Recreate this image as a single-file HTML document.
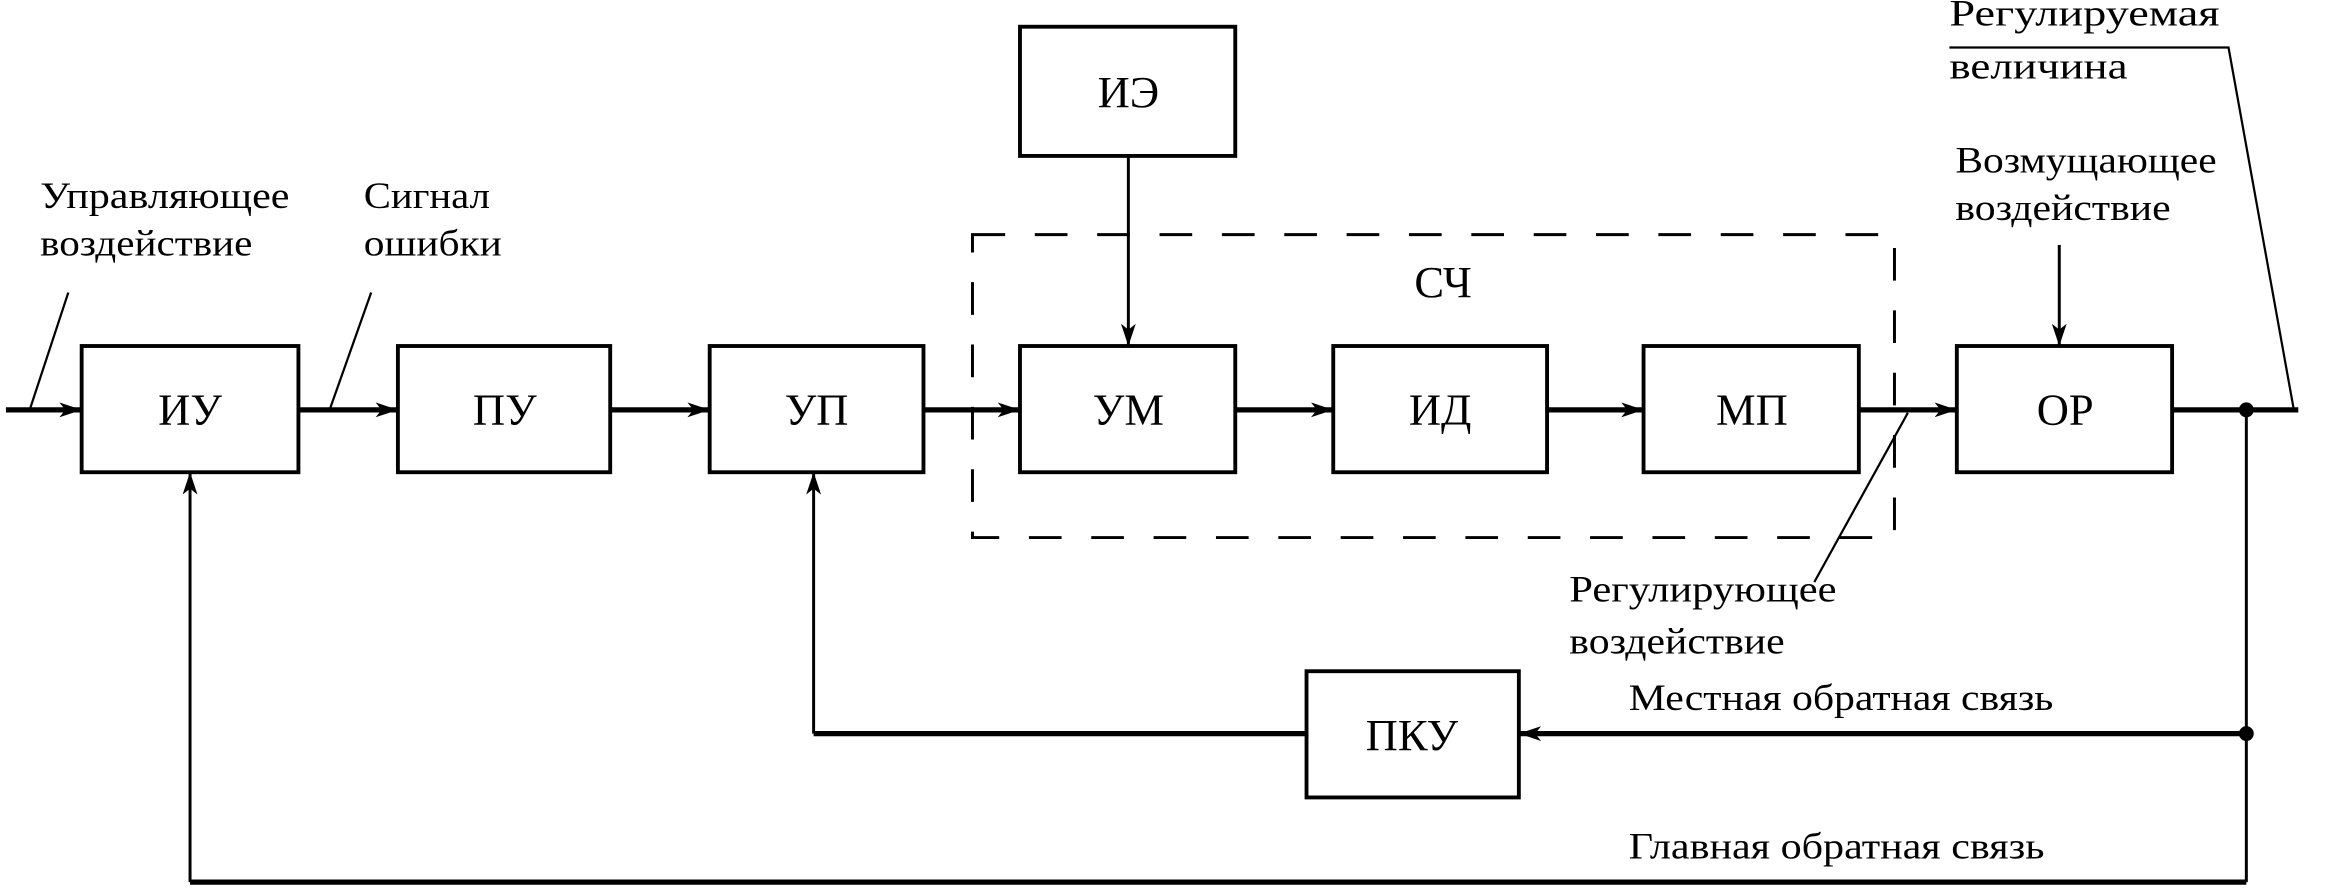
<!DOCTYPE html>
<html><head><meta charset="utf-8"><style>html,body{margin:0;padding:0;background:#fff}svg{display:block}</style></head>
<body>
<svg width="2328" height="891" viewBox="0 0 1568 600" preserveAspectRatio="none" xmlns="http://www.w3.org/2000/svg">
<defs>
<marker id="a" markerWidth="16" markerHeight="10" refX="15" refY="5" orient="auto" markerUnits="userSpaceOnUse">
<path d="M0,0 L15,5 L0,10 L4,5 Z" fill="#000"/></marker>
</defs>
<g fill="none" stroke="#000">
<g stroke-width="2.6">
<rect x="55" y="233" width="146" height="85"/>
<rect x="268" y="233" width="143" height="85"/>
<rect x="478" y="233" width="144" height="85"/>
<rect x="687" y="233" width="145" height="85"/>
<rect x="898" y="233" width="144" height="85"/>
<rect x="1107" y="233" width="145" height="85"/>
<rect x="1318" y="233" width="145" height="85"/>
<rect x="687" y="18" width="145" height="87"/>
<rect x="880" y="452" width="143" height="85"/>
</g>
<rect x="655" y="158" width="621" height="204" stroke-width="2" stroke-dasharray="22,20"/>
<g stroke-width="3.5">
<line x1="4" y1="276" x2="55" y2="276" marker-end="url(#a)"/>
<line x1="201" y1="276" x2="268" y2="276" marker-end="url(#a)"/>
<line x1="411" y1="276" x2="478" y2="276" marker-end="url(#a)"/>
<line x1="622" y1="276" x2="687" y2="276" marker-end="url(#a)"/>
<line x1="832" y1="276" x2="898" y2="276" marker-end="url(#a)"/>
<line x1="1042" y1="276" x2="1107" y2="276" marker-end="url(#a)"/>
<line x1="1252" y1="276" x2="1318" y2="276" marker-end="url(#a)"/>
<line x1="1463" y1="276" x2="1548" y2="276"/>
<line x1="1513" y1="494" x2="1023" y2="494" marker-end="url(#a)"/>
<line x1="880" y1="494" x2="548" y2="494"/>
<line x1="128" y1="594" x2="1513" y2="594"/>
</g>
<g stroke-width="2">
<line x1="760" y1="105" x2="760" y2="233" marker-end="url(#a)"/>
<line x1="1387" y1="165" x2="1387" y2="233" marker-end="url(#a)"/>
<line x1="1513" y1="276" x2="1513" y2="594"/>
<line x1="548" y1="494" x2="548" y2="318" marker-end="url(#a)"/>
<line x1="128" y1="594" x2="128" y2="318" marker-end="url(#a)"/>
</g>
<g stroke-width="1.5">
<line x1="20" y1="276" x2="46" y2="197"/>
<line x1="222" y1="276" x2="250" y2="197"/>
<line x1="1285" y1="278" x2="1222" y2="392"/>
<polyline points="1313,32 1501,32 1545,276"/>
</g>
</g>
<circle cx="1513" cy="276" r="5" fill="#000"/>
<circle cx="1513" cy="494" r="5" fill="#000"/>
<g font-family="'Liberation Serif', serif" fill="#000" text-anchor="middle" font-size="30">
<text x="128" y="286">ИУ</text>
<text x="340" y="286">ПУ</text>
<text x="550" y="286">УП</text>
<text x="760" y="286">УМ</text>
<text x="970" y="286">ИД</text>
<text x="1180" y="286">МП</text>
<text x="1391" y="286">ОР</text>
<text x="760" y="72">ИЭ</text>
<text x="951" y="505">ПКУ</text>
<text x="972" y="200">СЧ</text>
</g>
<g font-family="'Liberation Serif', serif" fill="#000" font-size="25">
<text x="27" y="140" textLength="168" lengthAdjust="spacingAndGlyphs">Управляющее</text>
<text x="27" y="172" textLength="143" lengthAdjust="spacingAndGlyphs">воздействие</text>
<text x="245" y="140" textLength="85" lengthAdjust="spacingAndGlyphs">Сигнал</text>
<text x="245" y="172" textLength="93" lengthAdjust="spacingAndGlyphs">ошибки</text>
<text x="1313" y="17" textLength="182" lengthAdjust="spacingAndGlyphs">Регулируемая</text>
<text x="1313" y="53" textLength="120" lengthAdjust="spacingAndGlyphs">величина</text>
<text x="1317" y="116" textLength="176" lengthAdjust="spacingAndGlyphs">Возмущающее</text>
<text x="1317" y="148" textLength="145" lengthAdjust="spacingAndGlyphs">воздействие</text>
<text x="1057" y="405" textLength="180" lengthAdjust="spacingAndGlyphs">Регулирующее</text>
<text x="1057" y="440" textLength="145" lengthAdjust="spacingAndGlyphs">воздействие</text>
<text x="1097" y="478" textLength="286" lengthAdjust="spacingAndGlyphs">Местная обратная связь</text>
<text x="1097" y="578" textLength="280" lengthAdjust="spacingAndGlyphs">Главная обратная связь</text>
</g>
</svg>
</body></html>
